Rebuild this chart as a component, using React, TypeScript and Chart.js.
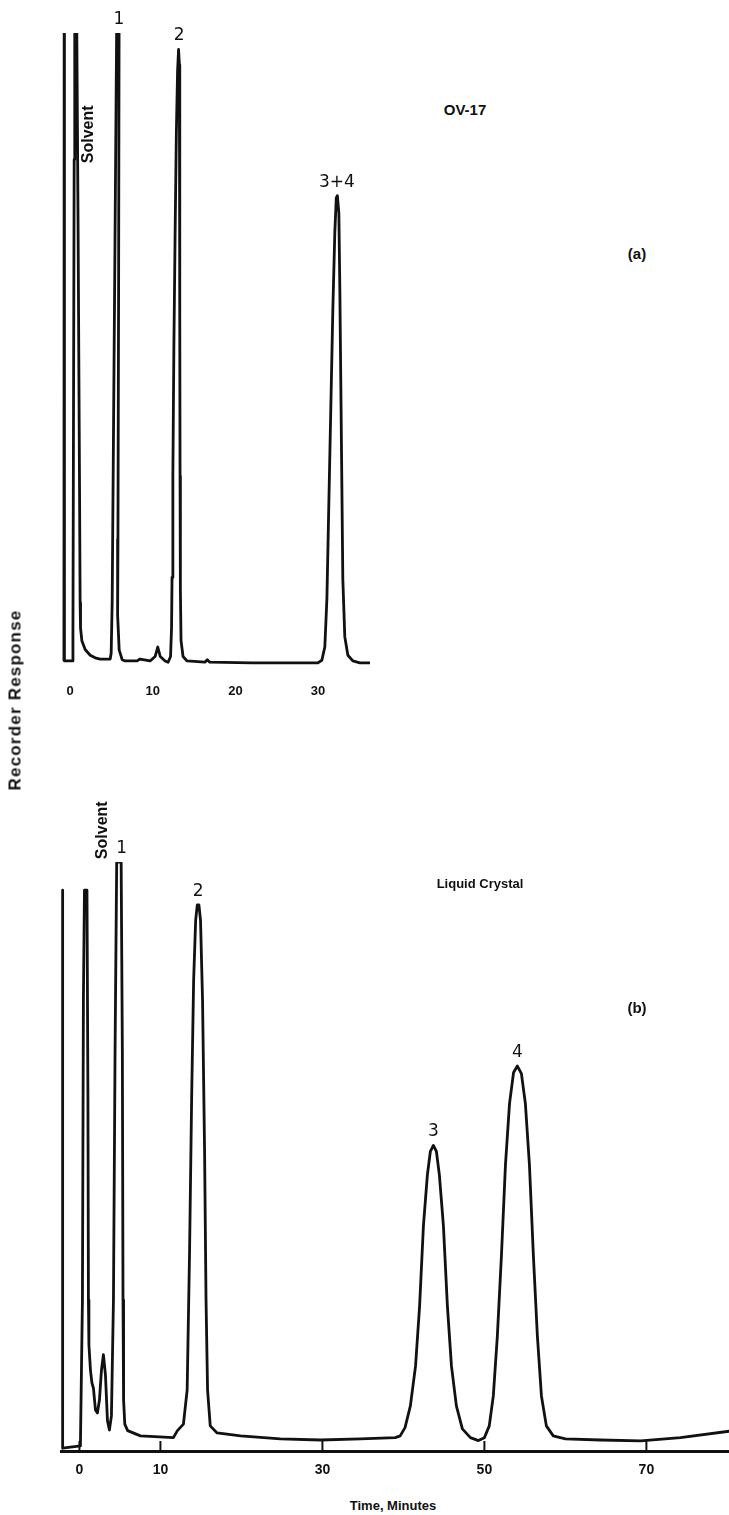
import React, { useEffect, useRef } from "react";
import { Chart, registerables } from "chart.js";

Chart.register(...registerables);

// ---------- (a) OV-17 column ----------
const TIME_A = [
  -0.76, -0.73, -0.7,
  0.25, 0.33, 0.4, 0.48, 0.55, 0.75, 0.95, 1.12, 1.2, 1.25, 1.41, 1.81, 2.42, 3.02, 3.63, 4.23, 4.84,
  4.96, 5.08, 5.26, 5.5, 5.68, 5.93, 5.86, 5.78, 5.74, 5.93, 6.29, 6.65,
  8.1, 8.46, 9.67, 10.28, 10.6, 10.9, 11.49, 11.85,
  12.15, 12.27, 12.33, 12.43, 12.55, 12.7, 12.85, 13.0, 13.12, 13.22, 13.25, 13.28, 13.3, 13.34, 13.42, 13.66, 14.15,
  16.3, 16.6, 16.9, 22.0, 26.0, 29.99,
  30.47, 30.83, 31.08, 31.32, 31.56, 31.8, 32.04, 32.22, 32.35, 32.53, 32.65, 32.77, 32.89, 33.01, 33.25, 33.62, 34.22, 35.07, 36.3,
];
const RESP_A = [
  0.8, 110, 0.8,
  0.8, 5, 40, 80, 110, 110, 70, 30, 10, 6, 4, 2.6, 1.7, 1.3, 1.1, 1.1, 1.1,
  2, 10, 40, 80, 110, 110, 60, 20, 8, 2.5, 1, 0.8,
  0.8, 1.1, 0.8, 1.5, 3.0, 1.5, 0.8, 0.6,
  1.5, 6, 14, 30, 50, 68, 84, 94, 97.4, 95, 80, 55, 30, 12, 4, 1.5, 0.8,
  0.6, 1.0, 0.6, 0.5, 0.5, 0.5,
  0.9, 3.0, 10.6, 25.9, 41.1, 56.3, 68.5, 74.0, 74.3, 71.5, 59.4, 44.1, 28.9, 13.7, 4.6, 1.7, 0.8, 0.5, 0.5,
];
const TICKS_A = [0, 10, 20, 30];
const PEAK_NAMES_A = ["1", "2", "3+4"];
const PEAK_TIMES_A = [5.9, 13.2, 32.3];
const SOLVENT_A = [2.2, 84];

// ---------- (b) Liquid crystal column ----------
const TIME_B = [
  -2.15, -2.1, -2.05,
  0.12, 0.37, 0.49, 0.62, 0.93, 1.05, 1.11, 1.17, 1.36, 1.54, 1.73, 1.98, 2.22, 2.47, 2.72, 2.96, 3.21, 3.46, 3.7, 3.95,
  4.2, 4.4, 4.6, 5.15, 5.3, 5.38, 5.45, 5.6, 5.95, 7.53, 11.6, 12.1, 12.84,
  13.3, 13.6, 13.85, 14.1, 14.35, 14.55, 14.75, 14.95, 15.2, 15.45, 15.63, 15.82, 16.15, 17.0, 19.9, 24.8, 29.75, 34.7, 39.0,
  39.6, 40.2, 40.86, 41.5, 42.0, 42.47, 42.96, 43.33, 43.7, 44.07, 44.44, 44.94, 45.43, 45.93, 46.54, 47.28, 48.27, 49.26, 50.0,
  50.6, 51.1, 51.6, 52.1, 52.6, 53.1, 53.6, 54.07, 54.57, 55.06, 55.56, 56.05, 56.54, 57.04, 57.65, 58.5, 60.0, 64.3, 69.3, 74.2, 80.25,
];
const RESP_B = [
  0.3, 95.2, 0.3,
  0.7, 25.5, 76.5, 95.2, 95.2, 59.5, 25.5, 17.9, 13.6, 11.4, 10.5, 6.8, 6.3, 8.5, 13.6, 16.2, 12.8, 5.0, 3.4, 5.8,
  25.5, 68.0, 100, 100, 68.0, 25.5, 8.5, 4.4, 3.3, 2.4, 2.1, 3.3, 4.4,
  10.2, 34.0, 59.5, 79.9, 90.1, 92.7, 92.7, 90.1, 76.5, 51.0, 25.5, 10.2, 4.1, 2.9, 2.4, 1.9, 1.7, 1.9, 2.1,
  2.4, 3.8, 7.5, 14.3, 24.5, 38.1, 46.8, 50.8, 51.8, 50.8, 46.8, 38.1, 24.5, 14.3, 7.5, 3.6, 2.1, 1.6, 2.1,
  4.1, 9.2, 19.4, 33.0, 48.5, 58.9, 64.2, 65.3, 64.0, 58.9, 48.5, 33.0, 19.4, 9.2, 4.1, 2.4, 1.9, 1.7, 1.55, 2.1, 3.2,
];
const TICKS_B = [0, 10, 30, 50, 70];
const PEAK_NAMES_B = ["1", "2", "3", "4"];
const PEAK_TIMES_B = [5.2, 14.65, 43.7, 54.07];
const SOLVENT_B = [2.84, 105.4];

const INK = "#111";
const SANS = "'Liberation Sans', Arial, Helvetica, sans-serif";
const PEAK_FONT = "17px 'DejaVu Sans', sans-serif";

type Opts = {
  times: number[];
  resp: number[];
  ticks: number[];
  peakNames: string[];
  peakTimes: number[];
  solvent: number[];
  xMin: number;
  xMax: number;
  yMax: number;
  pad: { left: number; right: number; top: number; bottom: number };
  axisH: number;
  tickPad: number;
  tickSize: number;
  drawAxis: boolean;
  labelGap: number;
};

function buildChart(canvas: HTMLCanvasElement, o: Opts) {
  const data = o.times.map((t, i) => ({ x: t, y: o.resp[i] }));
  const decor = {
    id: "chromDecor",
    afterDatasetsDraw(chart: any) {
      const { ctx, chartArea } = chart;
      const xs = chart.scales.x;
      const ys = chart.scales.y;
      ctx.save();
      ctx.fillStyle = INK;
      ctx.strokeStyle = INK;
      if (o.drawAxis) {
        ctx.lineWidth = 3;
        ctx.beginPath();
        ctx.moveTo(chartArea.left, chartArea.bottom + 1.5);
        ctx.lineTo(chartArea.right, chartArea.bottom + 1.5);
        ctx.stroke();
        ctx.lineWidth = 2;
        o.ticks.forEach((v) => {
          const px = xs.getPixelForValue(v);
          ctx.beginPath();
          ctx.moveTo(px, chartArea.bottom);
          ctx.lineTo(px, chartArea.bottom - 9);
          ctx.stroke();
        });
      }
      ctx.font = PEAK_FONT;
      ctx.textAlign = "center";
      ctx.textBaseline = "alphabetic";
      o.peakNames.forEach((name, i) => {
        let best = -Infinity;
        o.times.forEach((t, j) => {
          if (Math.abs(t - o.peakTimes[i]) <= 0.8 && o.resp[j] > best) best = o.resp[j];
        });
        const py = Math.max(ys.getPixelForValue(best), chartArea.top);
        ctx.fillText(name, xs.getPixelForValue(o.peakTimes[i]), py - o.labelGap);
      });
      ctx.font = `bold 16px ${SANS}`;
      ctx.translate(xs.getPixelForValue(o.solvent[0]), ys.getPixelForValue(o.solvent[1]));
      ctx.rotate(-Math.PI / 2);
      ctx.textBaseline = "middle";
      ctx.fillText("Solvent", 0, 0);
      ctx.restore();
    },
  };
  return new Chart(canvas, {
    type: "line",
    data: {
      datasets: [
        {
          data,
          borderColor: INK,
          borderWidth: 2.8,
          pointRadius: 0,
          tension: 0,
          fill: false,
          clip: 0,
          borderJoinStyle: "round",
        } as any,
      ],
    },
    options: {
      responsive: false,
      maintainAspectRatio: false,
      animation: false,
      devicePixelRatio: 1,
      events: [],
      layout: { padding: o.pad },
      plugins: { legend: { display: false }, tooltip: { enabled: false }, title: { display: false } },
      scales: {
        x: {
          type: "linear",
          min: o.xMin,
          max: o.xMax,
          afterBuildTicks: (s: any) => {
            s.ticks = o.ticks.map((v) => ({ value: v }));
          },
          afterFit: (s: any) => {
            s.height = o.axisH;
          },
          grid: { display: false, drawTicks: false },
          border: { display: false },
          ticks: {
            color: INK,
            font: { family: SANS, size: o.tickSize, weight: "bold" },
            padding: o.tickPad,
            maxRotation: 0,
            autoSkip: false,
            callback: (v: any) => String(v),
          },
        },
        y: { display: false, min: 0, max: o.yMax },
      },
    } as any,
    plugins: [decor],
  });
}

function ChromCanvas(props: { o: Opts; left: number; top: number; width: number; height: number }) {
  const ref = useRef<HTMLCanvasElement | null>(null);
  useEffect(() => {
    if (!ref.current) return;
    const c = buildChart(ref.current, props.o);
    return () => c.destroy();
  }, []);
  return (
    <canvas
      ref={ref}
      width={props.width}
      height={props.height}
      style={{ position: "absolute", left: props.left, top: props.top, width: props.width, height: props.height, display: "block" }}
    />
  );
}

function Label(props: { x: number; y: number; text: string; size?: number; rotate?: boolean; spacing?: number }) {
  return (
    <div
      style={{
        position: "absolute",
        left: props.x,
        top: props.y,
        transform: `translate(-50%, -50%)${props.rotate ? " rotate(-90deg)" : ""}`,
        whiteSpace: "nowrap",
        fontFamily: SANS,
        fontWeight: "bold",
        fontSize: props.size ?? 13,
        letterSpacing: props.spacing ?? 0,
        color: INK,
        lineHeight: 1,
      }}
    >
      {props.text}
    </div>
  );
}

const OPTS_A: Opts = {
  times: TIME_A,
  resp: RESP_A,
  ticks: TICKS_A,
  peakNames: PEAK_NAMES_A,
  peakTimes: PEAK_TIMES_A,
  solvent: SOLVENT_A,
  xMin: -1.6,
  xMax: 36.3,
  yMax: 100,
  pad: { left: 57, right: 10, top: 33, bottom: 0 },
  axisH: 44,
  tickPad: 18,
  tickSize: 13,
  drawAxis: false,
  labelGap: 9,
};

const OPTS_B: Opts = {
  times: TIME_B,
  resp: RESP_B,
  ticks: TICKS_B,
  peakNames: PEAK_NAMES_B,
  peakTimes: PEAK_TIMES_B,
  solvent: SOLVENT_B,
  xMin: -2.4,
  xMax: 80.2,
  yMax: 100,
  pad: { left: 60, right: 0, top: 102, bottom: 0 },
  axisH: 30,
  tickPad: 12,
  tickSize: 14,
  drawAxis: true,
  labelGap: 9,
};

export default function App() {
  return (
    <div style={{ position: "absolute", left: 0, top: 0, width: 729, height: 1515, background: "#fff", overflow: "hidden" }}>
      <ChromCanvas o={OPTS_A} left={0} top={0} width={380} height={710} />
      <ChromCanvas o={OPTS_B} left={0} top={760} width={729} height={720} />
      <Label x={465} y={109} text="OV-17" size={15} />
      <Label x={637} y={253} text="(a)" size={15} />
      <Label x={480} y={883} text="Liquid Crystal" size={13} />
      <Label x={637} y={1007} text="(b)" size={15} />
      <Label x={15} y={700} text="Recorder Response" size={17} spacing={1.2} rotate />
      <Label x={393} y={1505} text="Time, Minutes" size={13} />
    </div>
  );
}
